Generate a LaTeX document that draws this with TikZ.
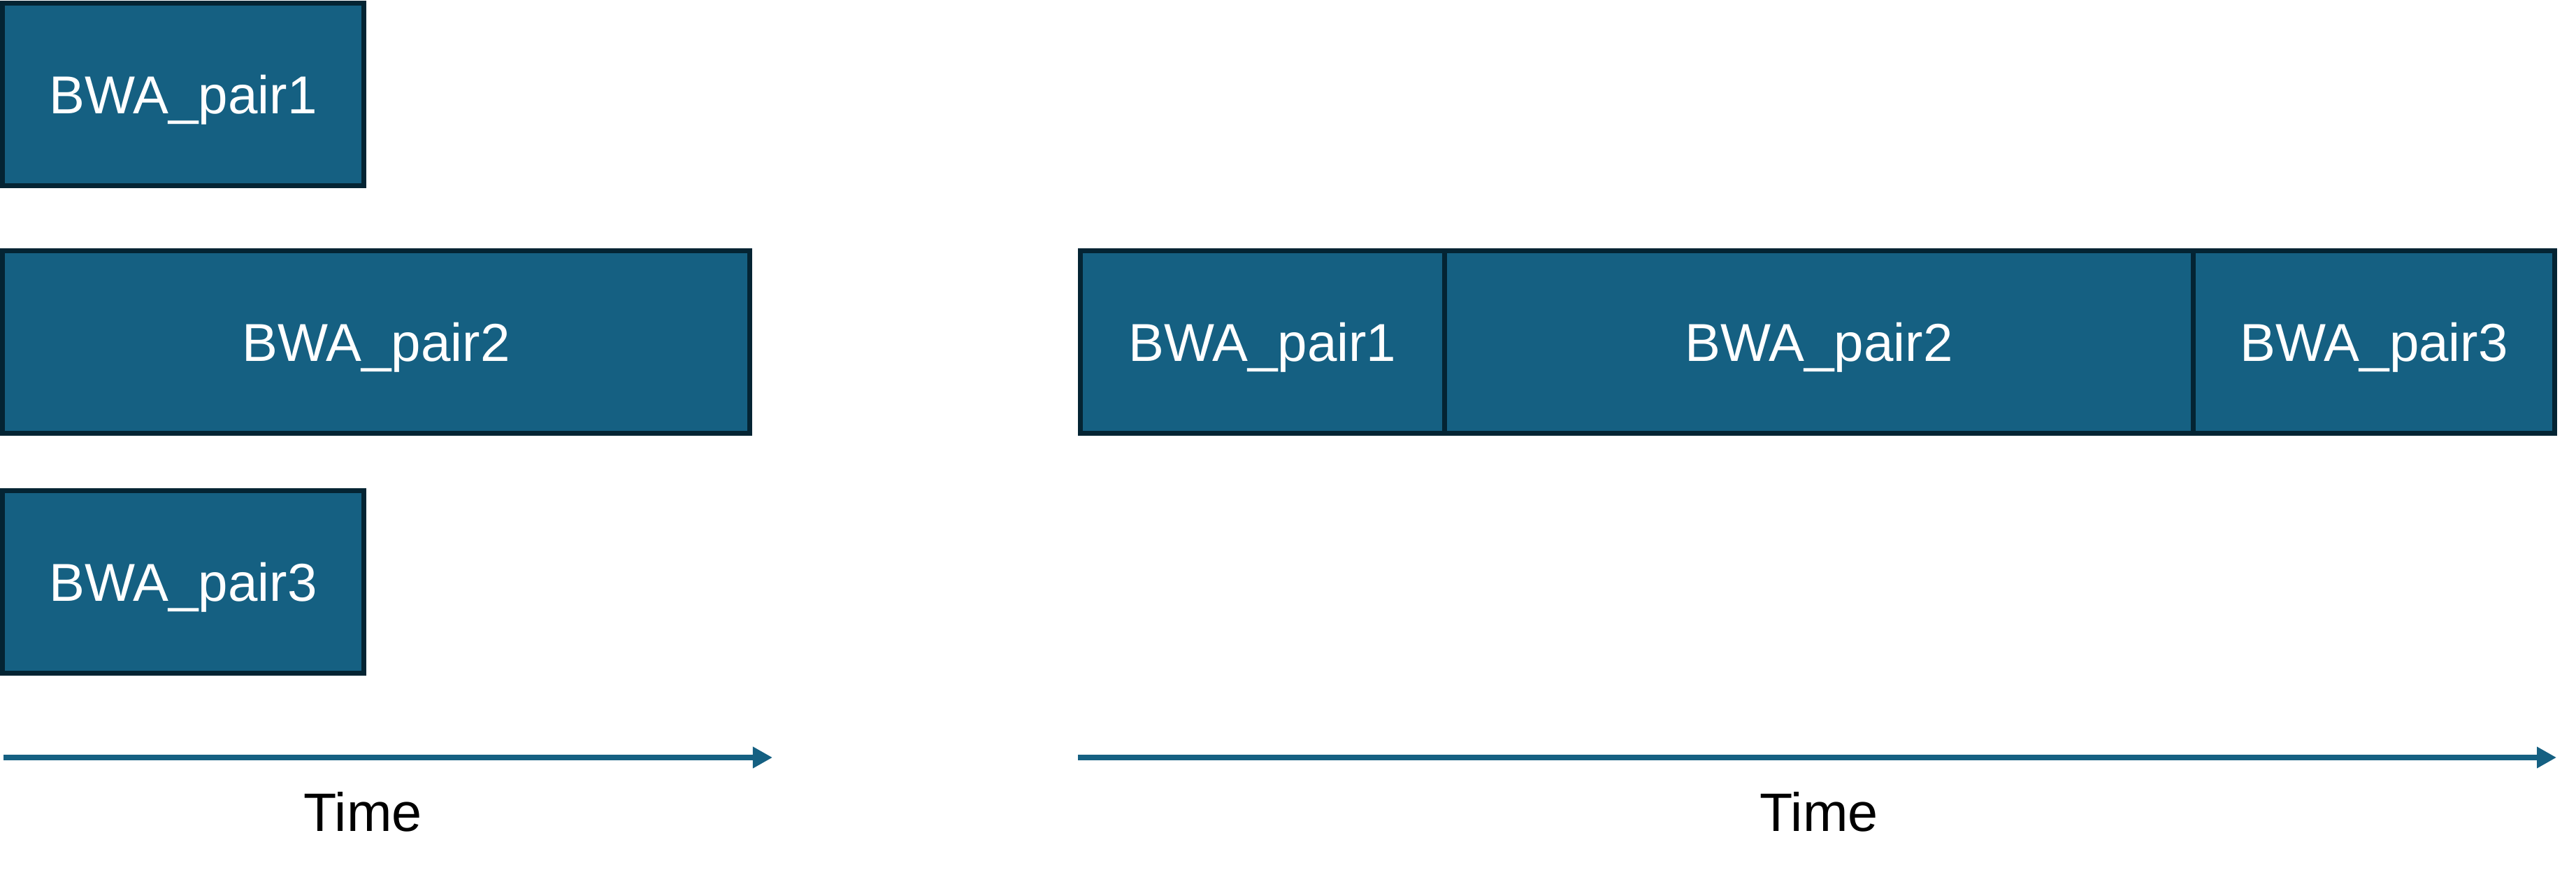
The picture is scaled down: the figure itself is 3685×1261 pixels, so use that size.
\documentclass[tikz,border=0pt]{standalone}
\usepackage{fontspec}
\setmainfont{Liberation Sans}
\usetikzlibrary{positioning,arrows.meta}
\definecolor{boxfill}{HTML}{156082}
\definecolor{edge}{HTML}{042433}
\tikzset{
  pair/.style={draw=edge, fill=boxfill, line width=1.9pt, outer sep=0pt, inner sep=0pt,
    minimum height=2.61cm, text depth=0pt, text=white, font=\fontsize{21.7}{26}\selectfont},
  axis/.style={draw=boxfill, line width=2pt, -{Triangle[length=0.28cm,width=0.29cm]}},
  lab/.style={text=black, font=\fontsize{22}{26}\selectfont},
}
\begin{document}
\begin{tikzpicture}[x=0.01cm, y=-0.01cm]
  \useasboundingbox (0,0) rectangle (3685,1261);
  % separate runs
  \node[pair, minimum width=5.17cm]  (lp1) at (262,135) {BWA\_pair1};
  \node[pair, minimum width=10.69cm] (lp2) at (538,489) {BWA\_pair2};
  \node[pair, minimum width=5.17cm]  (lp3) at (262,832) {BWA\_pair3};
  % one after another
  \node[pair, minimum width=5.205cm] (rp1) at (1805.75,489) {BWA\_pair1};
  \node[pair, minimum width=10.71cm, right=0pt of rp1] (rp2) {BWA\_pair2};
  \node[pair, minimum width=5.165cm, right=0pt of rp2] (rp3) {BWA\_pair3};
  % time axes
  \coordinate (la0) at (5,1083);
  \coordinate (la1) at (1105,1083);
  \coordinate (ra0) at (1542,1083);
  \coordinate (ra1) at (3657,1083);
  \draw[axis] (la0) -- (la1);
  \draw[axis] (ra0) -- (ra1);
  \node[lab] (lt) at (519,1161) {Time};
  \node[lab] (rt) at (2602,1161) {Time};
\end{tikzpicture}
\end{document}
